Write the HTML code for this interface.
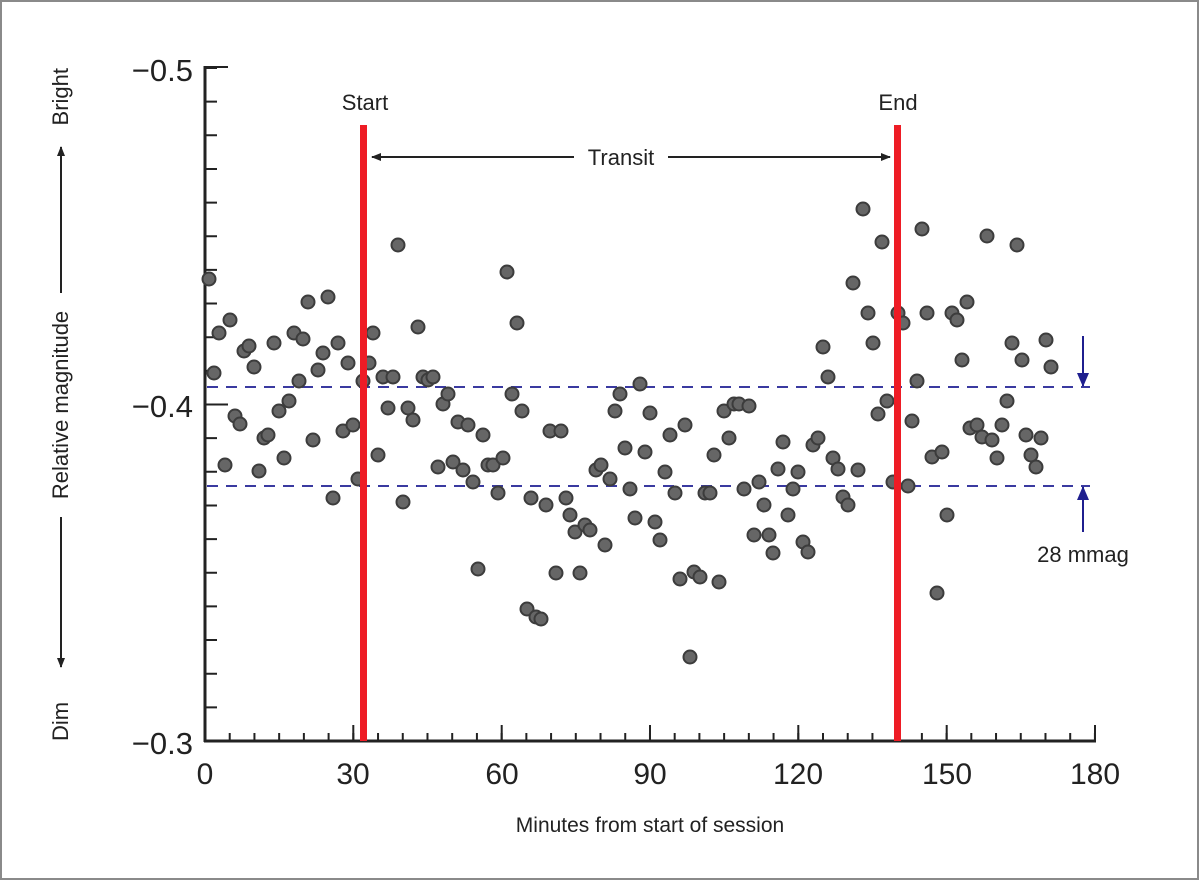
<!DOCTYPE html>
<html><head><style>
html,body{margin:0;padding:0;background:#fff}
svg{display:block;font-family:"Liberation Sans",sans-serif}
</style></head><body>
<svg width="1200" height="881" viewBox="0 0 1200 881" xmlns="http://www.w3.org/2000/svg">
<rect x="1" y="1" width="1197" height="878" fill="#fff" stroke="#8a8a8a" stroke-width="2"/>
<defs>
<marker id="ah" markerWidth="10" markerHeight="8" refX="9" refY="4" orient="auto" markerUnits="userSpaceOnUse"><path d="M0,0 L10,4 L0,8 Z" fill="#222"/></marker>
<marker id="bh" markerWidth="14" markerHeight="12" refX="13" refY="6" orient="auto" markerUnits="userSpaceOnUse"><path d="M0,0 L14,6 L0,12 Z" fill="#1f1f8f"/></marker>
</defs>
<g stroke="#3a3aa0" stroke-width="2" stroke-dasharray="11 8">
<line x1="207" y1="387" x2="1090" y2="387"/>
<line x1="207" y1="486" x2="1090" y2="486"/>
</g>
<g stroke="#222" fill="none">
<line x1="205" y1="66" x2="205" y2="742" stroke-width="3"/>
<line x1="204" y1="741" x2="1096" y2="741" stroke-width="3"/>
<line x1="211" y1="68" x2="211" y2="742" stroke-width="12" stroke-dasharray="2 31.65" transform="translate(0,-1)"/>
<line x1="204" y1="737" x2="1096" y2="737" stroke-width="8" stroke-dasharray="2 22.72"/>
<path d="M205,67 H228 M205,404.5 H228 M353.3,741 V725 M501.7,741 V725 M650,741 V725 M798.3,741 V725 M946.7,741 V725 M1095,741 V725" stroke-width="2"/>
</g>
<g font-size="31" fill="#222" text-anchor="end">
<text x="193" y="81">−0.5</text>
<text x="193" y="417">−0.4</text>
<text x="193" y="754">−0.3</text>
</g>
<g font-size="30" fill="#222" text-anchor="middle">
<text x="205" y="784">0</text><text x="353" y="784">30</text><text x="502" y="784">60</text><text x="650" y="784">90</text><text x="798" y="784">120</text><text x="947" y="784">150</text><text x="1095" y="784">180</text>
</g>
<text x="650" y="832" font-size="21" fill="#222" text-anchor="middle">Minutes from start of session</text>
<g transform="translate(68,405) rotate(-90)" font-size="22" fill="#222">
<text x="0" y="0" text-anchor="middle">Relative magnitude</text>
<text x="-336" y="0" text-anchor="start">Dim</text>
<text x="337" y="0" text-anchor="end">Bright</text>
<line x1="-112" y1="-7" x2="-175" y2="-7" stroke="#222" stroke-width="2"/>
<line x1="-175" y1="-7" x2="-262" y2="-7" stroke="#222" stroke-width="2" marker-end="url(#ah)"/>
<line x1="112" y1="-7" x2="175" y2="-7" stroke="#222" stroke-width="2"/>
<line x1="175" y1="-7" x2="258" y2="-7" stroke="#222" stroke-width="2" marker-end="url(#ah)"/>
</g>
<g fill="#666" stroke="#3c3c3c" stroke-width="2">
<circle cx="209" cy="279" r="6.5"/><circle cx="214" cy="373" r="6.5"/><circle cx="219" cy="333" r="6.5"/><circle cx="225" cy="465" r="6.5"/><circle cx="230" cy="320" r="6.5"/><circle cx="235" cy="416" r="6.5"/><circle cx="240" cy="424" r="6.5"/><circle cx="244" cy="351" r="6.5"/><circle cx="249" cy="346" r="6.5"/><circle cx="254" cy="367" r="6.5"/><circle cx="259" cy="471" r="6.5"/><circle cx="264" cy="438" r="6.5"/><circle cx="268" cy="435" r="6.5"/><circle cx="274" cy="343" r="6.5"/><circle cx="279" cy="411" r="6.5"/><circle cx="284" cy="458" r="6.5"/><circle cx="289" cy="401" r="6.5"/><circle cx="294" cy="333" r="6.5"/><circle cx="299" cy="381" r="6.5"/><circle cx="303" cy="339" r="6.5"/><circle cx="308" cy="302" r="6.5"/><circle cx="313" cy="440" r="6.5"/><circle cx="318" cy="370" r="6.5"/><circle cx="323" cy="353" r="6.5"/><circle cx="328" cy="297" r="6.5"/><circle cx="333" cy="498" r="6.5"/><circle cx="338" cy="343" r="6.5"/><circle cx="343" cy="431" r="6.5"/><circle cx="348" cy="363" r="6.5"/><circle cx="353" cy="425" r="6.5"/><circle cx="358" cy="479" r="6.5"/><circle cx="363" cy="381" r="6.5"/><circle cx="369" cy="363" r="6.5"/><circle cx="373" cy="333" r="6.5"/><circle cx="378" cy="455" r="6.5"/><circle cx="383" cy="377" r="6.5"/><circle cx="388" cy="408" r="6.5"/><circle cx="393" cy="377" r="6.5"/><circle cx="398" cy="245" r="6.5"/><circle cx="403" cy="502" r="6.5"/><circle cx="408" cy="408" r="6.5"/><circle cx="413" cy="420" r="6.5"/><circle cx="418" cy="327" r="6.5"/><circle cx="423" cy="377" r="6.5"/><circle cx="428" cy="380" r="6.5"/><circle cx="433" cy="377" r="6.5"/><circle cx="438" cy="467" r="6.5"/><circle cx="443" cy="404" r="6.5"/><circle cx="448" cy="394" r="6.5"/><circle cx="453" cy="462" r="6.5"/><circle cx="458" cy="422" r="6.5"/><circle cx="463" cy="470" r="6.5"/><circle cx="468" cy="425" r="6.5"/><circle cx="473" cy="482" r="6.5"/><circle cx="478" cy="569" r="6.5"/><circle cx="483" cy="435" r="6.5"/><circle cx="488" cy="465" r="6.5"/><circle cx="493" cy="465" r="6.5"/><circle cx="498" cy="493" r="6.5"/><circle cx="503" cy="458" r="6.5"/><circle cx="507" cy="272" r="6.5"/><circle cx="512" cy="394" r="6.5"/><circle cx="517" cy="323" r="6.5"/><circle cx="522" cy="411" r="6.5"/><circle cx="527" cy="609" r="6.5"/><circle cx="531" cy="498" r="6.5"/><circle cx="536" cy="617" r="6.5"/><circle cx="541" cy="619" r="6.5"/><circle cx="546" cy="505" r="6.5"/><circle cx="550" cy="431" r="6.5"/><circle cx="556" cy="573" r="6.5"/><circle cx="561" cy="431" r="6.5"/><circle cx="566" cy="498" r="6.5"/><circle cx="570" cy="515" r="6.5"/><circle cx="575" cy="532" r="6.5"/><circle cx="580" cy="573" r="6.5"/><circle cx="585" cy="525" r="6.5"/><circle cx="590" cy="530" r="6.5"/><circle cx="596" cy="470" r="6.5"/><circle cx="601" cy="465" r="6.5"/><circle cx="605" cy="545" r="6.5"/><circle cx="610" cy="479" r="6.5"/><circle cx="615" cy="411" r="6.5"/><circle cx="620" cy="394" r="6.5"/><circle cx="625" cy="448" r="6.5"/><circle cx="630" cy="489" r="6.5"/><circle cx="635" cy="518" r="6.5"/><circle cx="640" cy="384" r="6.5"/><circle cx="645" cy="452" r="6.5"/><circle cx="650" cy="413" r="6.5"/><circle cx="655" cy="522" r="6.5"/><circle cx="660" cy="540" r="6.5"/><circle cx="665" cy="472" r="6.5"/><circle cx="670" cy="435" r="6.5"/><circle cx="675" cy="493" r="6.5"/><circle cx="680" cy="579" r="6.5"/><circle cx="685" cy="425" r="6.5"/><circle cx="690" cy="657" r="6.5"/><circle cx="694" cy="572" r="6.5"/><circle cx="700" cy="577" r="6.5"/><circle cx="705" cy="493" r="6.5"/><circle cx="710" cy="493" r="6.5"/><circle cx="714" cy="455" r="6.5"/><circle cx="719" cy="582" r="6.5"/><circle cx="724" cy="411" r="6.5"/><circle cx="729" cy="438" r="6.5"/><circle cx="734" cy="404" r="6.5"/><circle cx="739" cy="404" r="6.5"/><circle cx="744" cy="489" r="6.5"/><circle cx="749" cy="406" r="6.5"/><circle cx="754" cy="535" r="6.5"/><circle cx="759" cy="482" r="6.5"/><circle cx="764" cy="505" r="6.5"/><circle cx="769" cy="535" r="6.5"/><circle cx="773" cy="553" r="6.5"/><circle cx="778" cy="469" r="6.5"/><circle cx="783" cy="442" r="6.5"/><circle cx="788" cy="515" r="6.5"/><circle cx="793" cy="489" r="6.5"/><circle cx="798" cy="472" r="6.5"/><circle cx="803" cy="542" r="6.5"/><circle cx="808" cy="552" r="6.5"/><circle cx="813" cy="445" r="6.5"/><circle cx="818" cy="438" r="6.5"/><circle cx="823" cy="347" r="6.5"/><circle cx="828" cy="377" r="6.5"/><circle cx="833" cy="458" r="6.5"/><circle cx="838" cy="469" r="6.5"/><circle cx="843" cy="497" r="6.5"/><circle cx="848" cy="505" r="6.5"/><circle cx="853" cy="283" r="6.5"/><circle cx="858" cy="470" r="6.5"/><circle cx="863" cy="209" r="6.5"/><circle cx="868" cy="313" r="6.5"/><circle cx="873" cy="343" r="6.5"/><circle cx="878" cy="414" r="6.5"/><circle cx="882" cy="242" r="6.5"/><circle cx="887" cy="401" r="6.5"/><circle cx="893" cy="482" r="6.5"/><circle cx="898" cy="313" r="6.5"/><circle cx="903" cy="323" r="6.5"/><circle cx="908" cy="486" r="6.5"/><circle cx="912" cy="421" r="6.5"/><circle cx="917" cy="381" r="6.5"/><circle cx="922" cy="229" r="6.5"/><circle cx="927" cy="313" r="6.5"/><circle cx="932" cy="457" r="6.5"/><circle cx="937" cy="593" r="6.5"/><circle cx="942" cy="452" r="6.5"/><circle cx="947" cy="515" r="6.5"/><circle cx="952" cy="313" r="6.5"/><circle cx="957" cy="320" r="6.5"/><circle cx="962" cy="360" r="6.5"/><circle cx="967" cy="302" r="6.5"/><circle cx="970" cy="428" r="6.5"/><circle cx="977" cy="425" r="6.5"/><circle cx="982" cy="437" r="6.5"/><circle cx="987" cy="236" r="6.5"/><circle cx="992" cy="440" r="6.5"/><circle cx="997" cy="458" r="6.5"/><circle cx="1002" cy="425" r="6.5"/><circle cx="1007" cy="401" r="6.5"/><circle cx="1012" cy="343" r="6.5"/><circle cx="1017" cy="245" r="6.5"/><circle cx="1022" cy="360" r="6.5"/><circle cx="1026" cy="435" r="6.5"/><circle cx="1031" cy="455" r="6.5"/><circle cx="1036" cy="467" r="6.5"/><circle cx="1041" cy="438" r="6.5"/><circle cx="1046" cy="340" r="6.5"/><circle cx="1051" cy="367" r="6.5"/>
</g>
<rect x="360" y="125" width="7" height="616" fill="#ee1c25"/>
<rect x="894" y="125" width="7" height="616" fill="#ee1c25"/>
<g font-size="22" fill="#222" text-anchor="middle">
<text x="365" y="110">Start</text>
<text x="898" y="110">End</text>
</g>
<line x1="574" y1="157" x2="372" y2="157" stroke="#222" stroke-width="2" marker-end="url(#ah)"/>
<line x1="668" y1="157" x2="890" y2="157" stroke="#222" stroke-width="2" marker-end="url(#ah)"/>
<text x="621" y="165" font-size="22" fill="#222" text-anchor="middle">Transit</text>
<line x1="1083" y1="336" x2="1083" y2="386" stroke="#1f1f8f" stroke-width="2" marker-end="url(#bh)"/>
<line x1="1083" y1="532" x2="1083" y2="487" stroke="#1f1f8f" stroke-width="2" marker-end="url(#bh)"/>
<text x="1083" y="562" font-size="22" fill="#222" text-anchor="middle">28 mmag</text>
</svg>
</body></html>
